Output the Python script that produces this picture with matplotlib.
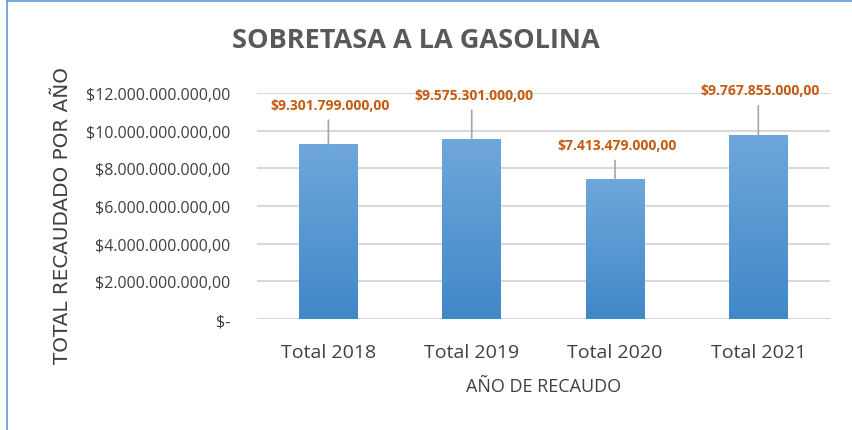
import numpy as np
import matplotlib.pyplot as plt
from matplotlib.lines import Line2D
from matplotlib.colors import LinearSegmentedColormap

categories = ['Total 2018', 'Total 2019', 'Total 2020', 'Total 2021']
values = [9301799000, 9575301000, 7413479000, 9767855000]
value_labels = ['$9.301.799.000,00', '$9.575.301.000,00', '$7.413.479.000,00', '$9.767.855.000,00']
yticks = [0, 2e9, 4e9, 6e9, 8e9, 10e9, 12e9]
ytick_labels = ['$-', '$2.000.000.000,00', '$4.000.000.000,00', '$6.000.000.000,00',
                '$8.000.000.000,00', '$10.000.000.000,00', '$12.000.000.000,00']
# label offsets above bar top (data units)
label_dy = [1.7e9, 1.95e9, 1.45e9, 2.0e9]

plt.rcParams['font.family'] = ['Open Sans', 'DejaVu Sans']

fig = plt.figure(figsize=(8.53, 4.31), dpi=100)
ax = fig.add_axes([0.301, 0.2575, 0.672, 0.5245])

x = np.arange(len(categories))
width = 0.41
bars = ax.bar(x, values, width=width, color='none', zorder=3)

# vertical gradient fill for each bar
grad = np.linspace(0, 1, 256).reshape(-1, 1)
cmap = LinearSegmentedColormap.from_list('g', ['#4088c8', '#6fa7db'])
for b in bars:
    x0, y0 = b.get_x(), b.get_y()
    w, h = b.get_width(), b.get_height()
    im = ax.imshow(grad, extent=[x0, x0 + w, y0, y0 + h], origin='lower',
                   aspect='auto', cmap=cmap, zorder=3)
    im.set_clip_path(b)
    b.set_edgecolor('none')

ax.set_xlim(-0.5, len(categories) - 0.5)
ax.set_ylim(0, 12e9)
ax.set_yticks(yticks)
ax.set_yticklabels(ytick_labels, fontsize=11.5, color='#404040')
ax.set_xticks(x)
ax.set_xticklabels(categories, fontsize=14, color='#404040')
ax.tick_params(axis='both', length=0)
ax.tick_params(axis='y', pad=19)
ax.tick_params(axis='x', pad=17)
ax.grid(axis='y', color='#d9d9d9', linewidth=1.5, zorder=0)
for s in ax.spines.values():
    s.set_visible(False)

# data labels with leader lines
for i, v in enumerate(values):
    ax.annotate(value_labels[i], xy=(x[i], v), xytext=(x[i] + 0.015, v + label_dy[i]),
                ha='center', va='bottom', fontsize=10, fontweight='bold', color='#c55a11',
                zorder=4)
    ax.annotate('', xy=(x[i], v), xytext=(x[i], v + label_dy[i]),
                arrowprops=dict(arrowstyle='-', color='#a6a6a6', lw=1.2,
                                shrinkA=6, shrinkB=0), zorder=4)

ax.set_xlabel('AÑO DE RECAUDO', fontsize=13, color='#404040', labelpad=12)
fig.text(0.073, 0.5, 'TOTAL RECAUDADO POR AÑO', rotation=90, ha='center', va='center',
         fontsize=14.3, color='#404040', family=['DejaVu Sans'])
fig.text(0.487, 0.905, 'SOBRETASA A LA GASOLINA', ha='center', va='center',
         fontsize=19.5, fontweight='bold', color='#595959')

# chart frame remnants (blue border on left and top)
fig.add_artist(Line2D([0.0085, 0.0085], [0, 0.995], transform=fig.transFigure, color='#5b9bd5', lw=1.2))
fig.add_artist(Line2D([0.0085, 1], [0.995, 0.995], transform=fig.transFigure, color='#5b9bd5', lw=1.2))

fig.savefig('out.png', dpi=100)
